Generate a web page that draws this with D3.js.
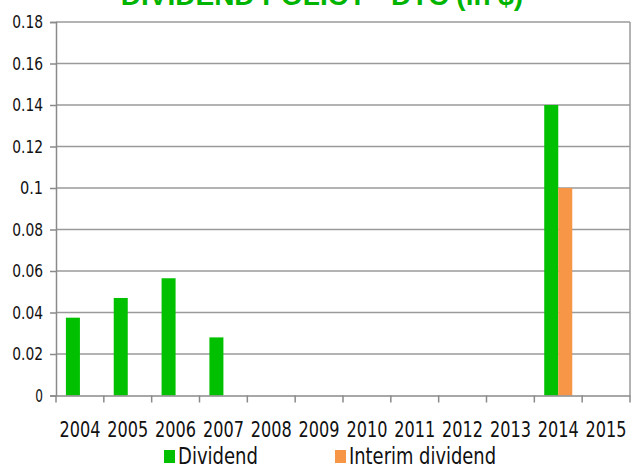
<!DOCTYPE html>
<html><head><meta charset="utf-8">
<script src="https://cdn.jsdelivr.net/npm/d3@7"></script>
<style>body{margin:0;background:#fff}svg{display:block}</style>
</head><body>
<svg id="c" width="632" height="468"></svg>
<script>
const years = ["2004","2005","2006","2007","2008","2009","2010","2011","2012","2013","2014","2015"];
const series = ["Dividend","Interim dividend"];
const dividend = [0.0375,0.047,0.0565,0.028,0,0,0,0,0,0,0.14,0];
const interim  = [0,0,0,0,0,0,0,0,0,0,0.10,0];
const colors = ["#00C000","#F79646"];
const yTicks = [0,0.02,0.04,0.06,0.08,0.1,0.12,0.14,0.16,0.18];
const title = "DIVIDEND POLICY - DTC (in $)";

const FONT = "'DejaVu Sans Condensed','DejaVu Sans',sans-serif";
const svg = d3.select("#c");
const L=56,R=630,T=22,B=395.5;
const x0 = d3.scaleBand().domain(years).range([L,R]).padding(0);
const bw = x0.bandwidth();
const x1 = d3.scaleBand().domain(series).range([bw*0.207,bw*0.793]).padding(0);
const y = d3.scaleLinear().domain([0,0.18]).range([B,T]);

svg.append("g").selectAll("line").data(yTicks.slice(1)).join("line")
  .attr("x1",L).attr("x2",R).attr("y1",d=>y(d)).attr("y2",d=>y(d))
  .attr("stroke","#9a9a9a").attr("stroke-width",1.5);
svg.append("line").attr("x1",R).attr("x2",R).attr("y1",T).attr("y2",B).attr("stroke","#9a9a9a").attr("stroke-width",1.5);

const data = [dividend, interim];
series.forEach((s,i)=>{
  svg.append("g").selectAll("rect").data(years).join("rect")
    .attr("x",d=>x0(d)+x1(s)).attr("width",x1.bandwidth())
    .attr("y",(d,j)=>y(data[i][j])).attr("height",(d,j)=>B-y(data[i][j]))
    .attr("fill",colors[i]);
});

const ya = svg.append("g").attr("transform",`translate(${L},0)`)
  .call(d3.axisLeft(y).tickValues(yTicks).tickFormat(d=>String(+d.toFixed(2))).tickSize(6).tickPadding(7));
ya.select(".domain").attr("stroke","#8a8a8a").attr("stroke-width",1.5);
ya.selectAll(".tick line").attr("stroke","#8a8a8a").attr("stroke-width",1.5);
ya.selectAll("text").attr("font-family",FONT).attr("font-stretch","condensed").attr("font-size",18).attr("fill","#111")
  .each(function(d){ const t=d3.select(this).text(); d3.select(this).attr("textLength", t.length*7.7).attr("lengthAdjust","spacingAndGlyphs"); });

const xa = svg.append("g").attr("transform",`translate(0,${B})`)
  .call(d3.axisBottom(x0).tickSize(0).tickPadding(27));
xa.select(".domain").attr("stroke","#8a8a8a").attr("stroke-width",1.5);
xa.selectAll("text").attr("font-family",FONT).attr("font-stretch","condensed").attr("font-size",20.5).attr("fill","#111")
  .attr("textLength",41).attr("lengthAdjust","spacingAndGlyphs");
xa.append("g").selectAll("line").data(years.concat(["end"])).join("line")
  .attr("x1",(d,i)=>L+i*bw).attr("x2",(d,i)=>L+i*bw).attr("y1",0).attr("y2",7)
  .attr("stroke","#8a8a8a").attr("stroke-width",1.5);

svg.append("text").attr("x",322).attr("y",5).attr("text-anchor","middle")
  .attr("font-family","'Liberation Sans',Arial,sans-serif").attr("font-weight","bold")
  .attr("font-size",28).attr("fill","#00B400").text(title);

const lg = svg.append("g");
const lx = [164,335], lw = [80,147];
series.forEach((s,i)=>{
  lg.append("rect").attr("x",lx[i]).attr("y",450).attr("width",11).attr("height",13).attr("fill",colors[i]);
  lg.append("text").attr("x",lx[i]+14).attr("y",464)
    .attr("font-family",FONT).attr("font-stretch","condensed").attr("font-size",23).attr("fill","#111")
    .attr("textLength",lw[i]).attr("lengthAdjust","spacingAndGlyphs").text(s);
});
</script>
</body></html>
